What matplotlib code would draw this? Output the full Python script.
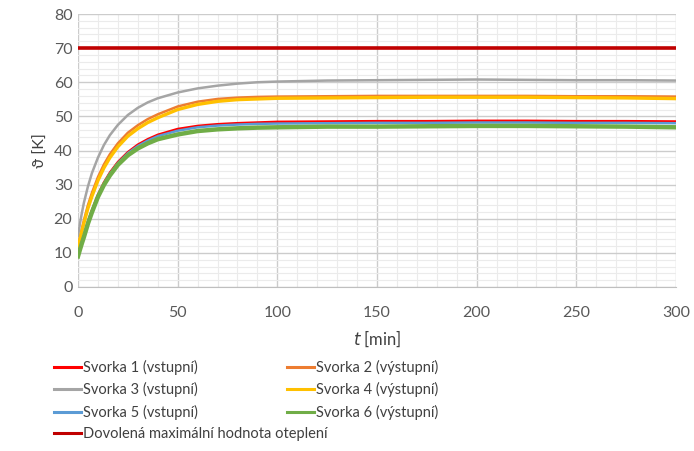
import matplotlib
matplotlib.use("Agg")
import matplotlib.pyplot as plt
from matplotlib.ticker import MultipleLocator

plt.rcParams['font.family'] = ['Lato', 'DejaVu Sans']

t = [0, 1, 2, 3, 5, 7, 10, 13, 16, 20, 25, 30, 35, 40, 50, 60, 70, 80, 90, 100, 125, 150, 175, 200, 225, 250, 275, 300]
s1 = [9.5, 11.5, 13.4, 15.2, 19.2, 22.5, 27.0, 30.6, 33.5, 36.6, 39.5, 41.7, 43.3, 44.6, 46.3, 47.2, 47.7, 48.0, 48.2, 48.4, 48.5, 48.6, 48.6, 48.7, 48.7, 48.6, 48.6, 48.5]
s2 = [12.0, 14.6, 17.2, 19.6, 24.0, 27.6, 32.2, 35.9, 38.9, 42.1, 45.2, 47.4, 49.2, 50.6, 52.9, 54.3, 55.1, 55.5, 55.7, 55.8, 55.9, 56.0, 56.0, 56.0, 56.0, 55.9, 55.9, 55.8]
s3 = [15.0, 18.6, 21.9, 24.8, 29.5, 33.4, 37.9, 41.6, 44.5, 47.5, 50.4, 52.5, 54.1, 55.3, 57.0, 58.2, 59.0, 59.6, 60.0, 60.2, 60.5, 60.6, 60.7, 60.8, 60.7, 60.6, 60.6, 60.5]
s4 = [11.5, 14.0, 16.5, 18.8, 23.1, 26.6, 31.2, 34.9, 37.9, 41.1, 44.2, 46.4, 48.2, 49.6, 52.0, 53.5, 54.4, 54.9, 55.1, 55.3, 55.4, 55.5, 55.6, 55.6, 55.6, 55.5, 55.4, 55.2]
s5 = [9.3, 11.3, 13.2, 15.0, 18.9, 22.2, 26.7, 30.3, 33.2, 36.3, 39.2, 41.3, 42.9, 44.2, 45.8, 46.8, 47.3, 47.6, 47.8, 47.9, 48.0, 48.1, 48.1, 48.2, 48.2, 48.1, 48.1, 48.0]
s6 = [9.0, 11.0, 12.9, 14.7, 18.6, 21.9, 26.4, 29.9, 32.7, 35.8, 38.6, 40.6, 42.1, 43.3, 44.7, 45.7, 46.2, 46.5, 46.7, 46.8, 47.0, 47.0, 47.1, 47.2, 47.2, 47.1, 47.0, 46.8]
limit_t = [0, 300]
limit_v = [70, 70]

labels = ["Svorka 1 (vstupní)", "Svorka 2 (výstupní)", "Svorka 3 (vstupní)",
          "Svorka 4 (výstupní)", "Svorka 5 (vstupní)", "Svorka 6 (výstupní)",
          "Dovolená maximální hodnota oteplení"]
colors = ["#FF0000", "#ED7D31", "#A5A5A5", "#FFC000", "#5B9BD5", "#70AD47", "#C00000"]
series = [s1, s2, s3, s4, s5, s6]
widths = [1.8, 1.8, 1.8, 2.4, 1.8, 3.2]

fig = plt.figure(figsize=(6.94, 4.51), dpi=100)
ax = fig.add_axes([78/694, 1-287/451, (676-78)/694, (287-14)/451])

handles = []
for s, c, lw, lab in zip(series, colors, widths, labels[:6]):
    h, = ax.plot(t, s, color=c, lw=lw, label=lab, solid_joinstyle='round')
    handles.append(h)
h, = ax.plot(limit_t, limit_v, color=colors[6], lw=2.6, label=labels[6])
handles.append(h)

ax.set_xlim(0, 300)
ax.set_ylim(0, 80)
ax.xaxis.set_major_locator(MultipleLocator(50))
ax.xaxis.set_minor_locator(MultipleLocator(10))
ax.yaxis.set_major_locator(MultipleLocator(10))
ax.yaxis.set_minor_locator(MultipleLocator(2))
ax.grid(which='major', color='#CCCCCC', lw=1.0)
ax.grid(which='minor', color='#EBEBEB', lw=0.8)
ax.set_axisbelow(True)
for sp in ['top', 'right', 'left']:
    ax.spines[sp].set_visible(False)
ax.spines['bottom'].set_color('#BFBFBF')
ax.tick_params(which='both', length=0, labelsize=11.5, labelcolor='#595959')
ax.tick_params(axis='x', pad=14)
ax.tick_params(axis='y', pad=4)

ax.set_ylabel("ϑ [K]", fontsize=11.5, color='#404040', labelpad=4)
ax.set_xlabel("$\\it{t}$ [min]", fontsize=12, color='#404040', labelpad=6)

leg_kw = dict(loc='upper left', frameon=False, fontsize=10.5, labelcolor='#404040',
              handlelength=1.85, handletextpad=0.12, labelspacing=0.5,
              borderaxespad=0, borderpad=0)
col1 = [0, 2, 4, 6]
col2 = [1, 3, 5]
leg1 = fig.legend([handles[i] for i in col1], [labels[i] for i in col1],
                  bbox_to_anchor=(54/694, 1-360/451), **leg_kw)
leg2 = fig.legend([handles[i] for i in col2], [labels[i] for i in col2],
                  bbox_to_anchor=(287/694, 1-360/451), **leg_kw)
for lg in (leg1, leg2):
    for line in lg.get_lines():
        line.set_linewidth(2.2)

fig.savefig("out.png", dpi=100)
